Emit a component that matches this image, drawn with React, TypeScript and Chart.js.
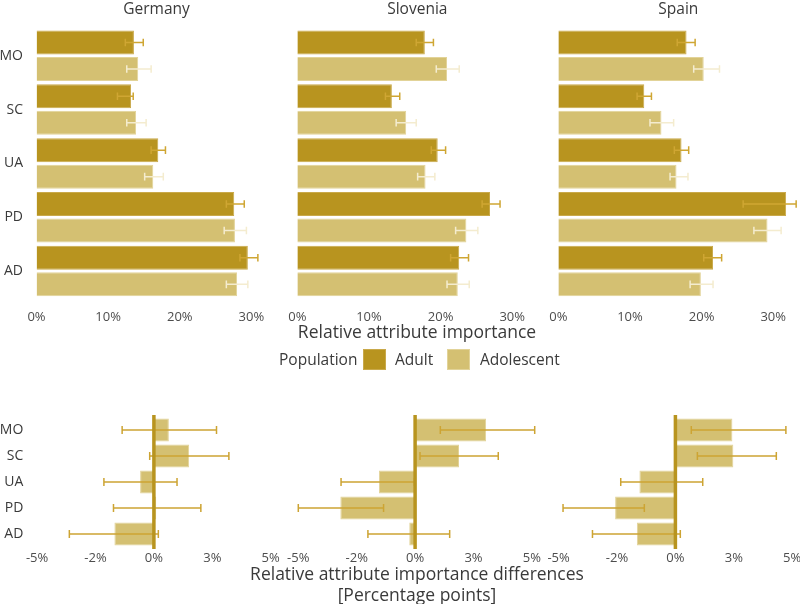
import React, { useEffect, useRef } from "react";
import { Chart, registerables } from "chart.js";

Chart.register(...registerables);

// ---------- data ----------
const categories = ["MO", "SC", "UA", "PD", "AD"];
const countries = ["Germany", "Slovenia", "Spain"];
const importanceTicks = [0, 10, 20, 30];
const importanceTickLabels = ["0%", "10%", "20%", "30%"];
const differenceTicks = [-5, -2.5, 0, 2.5, 5];
const differenceTickLabels = ["-5%", "-2%", "0%", "3%", "5%"];

// Germany
const germanyAdult = [13.6, 13.2, 17.0, 27.6, 29.5];
const germanyAdultLow = [12.4, 11.3, 16.0, 26.5, 28.4];
const germanyAdultHigh = [14.9, 13.5, 18.0, 29.0, 30.9];
const germanyAdolescent = [14.2, 13.9, 16.3, 27.7, 28.0];
const germanyAdolescentLow = [12.6, 12.6, 15.1, 26.2, 26.5];
const germanyAdolescentHigh = [16.0, 15.3, 17.7, 29.3, 29.5];
// Slovenia
const sloveniaAdult = [17.8, 13.2, 19.6, 26.9, 22.6];
const sloveniaAdultLow = [16.6, 12.3, 18.7, 25.8, 21.4];
const sloveniaAdultHigh = [19.0, 14.3, 20.7, 28.3, 23.9];
const sloveniaAdolescent = [20.9, 15.2, 17.9, 23.6, 22.4];
const sloveniaAdolescentLow = [19.4, 13.8, 16.8, 22.1, 20.9];
const sloveniaAdolescentHigh = [22.6, 16.6, 19.2, 25.2, 24.0];
// Spain
const spainAdult = [17.9, 12.0, 17.2, 31.8, 21.6];
const spainAdultLow = [16.6, 11.0, 16.2, 25.8, 20.3];
const spainAdultHigh = [19.1, 13.0, 18.2, 33.2, 22.8];
const spainAdolescent = [20.3, 14.4, 16.5, 29.2, 19.9];
const spainAdolescentLow = [18.9, 12.8, 15.6, 27.3, 18.4];
const spainAdolescentHigh = [22.5, 16.1, 18.1, 31.1, 21.6];
// Differences (Adolescent - Adult), percentage points
const germanyDifference = [0.64, 1.51, -0.59, 0.1, -1.69];
const germanyDifferenceLow = [-1.36, -0.18, -2.14, -1.73, -3.62];
const germanyDifferenceHigh = [2.68, 3.21, 0.99, 2.01, 0.19];
const sloveniaDifference = [3.04, 1.88, -1.55, -3.2, -0.25];
const sloveniaDifferenceLow = [1.08, 0.21, -3.17, -5.0, -2.02];
const sloveniaDifferenceHigh = [5.12, 3.56, -0.03, -1.35, 1.48];
const spainDifference = [2.44, 2.48, -1.54, -2.58, -1.65];
const spainDifferenceLow = [0.68, 0.94, -2.34, -4.81, -3.55];
const spainDifferenceHigh = [4.73, 4.32, 1.17, -1.33, 0.21];

// ---------- styles ----------
const FONT = "'Open Sans', 'Noto Sans', sans-serif";
const ADULT = "#B8941F";
const ADOLESCENT = "#D4C072";
const ADULT_BORDER = "#C9A94A";
const ADOLESCENT_BORDER = "#E2D398";
const ADULT_ERR = "#CFA633";
const ADOLESCENT_ERR = "#F4ECCF";
const DIFF_ERR = "#CDA433";
const TEXT = "#3a3a3a";
const TICK = "#4d4d4d";

type ErrSet = { low: number[]; high: number[]; color: string };
type DS = { label: string; data: number[]; color: string; border: string };
type PanelProps = {
  left: number;
  top: number;
  width: number;
  height: number;
  title?: string;
  showY: boolean;
  yWidth: number;
  yPad: number;
  padLeft: number;
  padRight: number;
  padTop: number;
  datasets: DS[];
  errors: ErrSet[];
  min: number;
  max: number;
  ticks: number[];
  tickLabels: string[];
  tickPadding: number;
  xHeight: number;
  catPct: number;
  barPct: number;
  zeroLine: boolean;
  capHalf: number;
};

function makeOverlay(errors: ErrSet[], zeroLine: boolean, capHalf: number) {
  return {
    id: "overlay",
    afterDatasetsDraw(chart: any) {
      const { ctx, chartArea } = chart;
      const x = chart.scales.x;
      ctx.save();
      errors.forEach((set, di) => {
        const meta = chart.getDatasetMeta(di);
        meta.data.forEach((el: any, i: number) => {
          const y = el.y;
          const x1 = x.getPixelForValue(set.low[i]);
          const x2 = x.getPixelForValue(set.high[i]);
          ctx.strokeStyle = set.color;
          ctx.lineWidth = 1.5;
          ctx.beginPath();
          ctx.moveTo(x1, y);
          ctx.lineTo(x2, y);
          ctx.moveTo(x1, y - capHalf);
          ctx.lineTo(x1, y + capHalf);
          ctx.moveTo(x2, y - capHalf);
          ctx.lineTo(x2, y + capHalf);
          ctx.stroke();
        });
      });
      if (zeroLine) {
        const x0 = x.getPixelForValue(0);
        ctx.strokeStyle = ADULT;
        ctx.lineWidth = 3.5;
        ctx.beginPath();
        ctx.moveTo(x0, chartArea.top - 2);
        ctx.lineTo(x0, chartArea.bottom + 2);
        ctx.stroke();
      }
      ctx.restore();
    },
  };
}

function Panel(p: PanelProps) {
  const ref = useRef<HTMLCanvasElement>(null);
  useEffect(() => {
    const canvas = ref.current;
    if (!canvas) return;
    const chart = new Chart(canvas, {
      type: "bar",
      data: {
        labels: categories,
        datasets: p.datasets.map((d) => ({
          label: d.label,
          data: d.data,
          backgroundColor: d.color,
          borderColor: d.border,
          borderWidth: 1,
          categoryPercentage: p.catPct,
          barPercentage: p.barPct,
        })),
      },
      options: {
        indexAxis: "y",
        responsive: false,
        animation: false,
        events: [],
        layout: {
          padding: { left: p.padLeft, right: p.padRight, top: p.padTop, bottom: 0 },
        },
        plugins: {
          legend: { display: false },
          tooltip: { enabled: false },
          title: {
            display: !!p.title,
            text: p.title || "",
            fullSize: false,
            color: TEXT,
            font: { family: FONT, size: 15.5, weight: "normal", lineHeight: 1.2 },
            padding: { top: 0, bottom: 10.2 },
          },
        },
        scales: {
          x: {
            type: "linear",
            min: p.min,
            max: p.max,
            grid: { display: false, drawTicks: false },
            border: { display: false },
            ticks: {
              color: TICK,
              font: { family: FONT, size: 13 },
              padding: p.tickPadding,
              maxRotation: 0,
              autoSkip: false,
              callback: (_v: any, i: number) => p.tickLabels[i],
            },
            afterBuildTicks: (s: any) => {
              s.ticks = p.ticks.map((v) => ({ value: v }));
            },
            afterFit: (s: any) => {
              s.height = p.xHeight;
              s.paddingLeft = 0;
              s.paddingRight = 0;
            },
          },
          y: {
            type: "category",
            display: p.showY,
            grid: { display: false, drawTicks: false },
            border: { display: false },
            ticks: {
              color: TEXT,
              font: { family: FONT, size: 14 },
              padding: p.yPad,
            },
            afterFit: (s: any) => {
              s.width = p.yWidth;
              s.paddingTop = 0;
              s.paddingBottom = 0;
            },
          },
        },
      },
      plugins: [makeOverlay(p.errors, p.zeroLine, p.capHalf)],
    } as any);
    return () => chart.destroy();
  }, []);
  return (
    <canvas
      ref={ref}
      width={p.width}
      height={p.height}
      style={{ position: "absolute", left: p.left, top: p.top, width: p.width, height: p.height }}
    />
  );
}

const topSets = [
  {
    adult: germanyAdult, adultLow: germanyAdultLow, adultHigh: germanyAdultHigh,
    adol: germanyAdolescent, adolLow: germanyAdolescentLow, adolHigh: germanyAdolescentHigh,
  },
  {
    adult: sloveniaAdult, adultLow: sloveniaAdultLow, adultHigh: sloveniaAdultHigh,
    adol: sloveniaAdolescent, adolLow: sloveniaAdolescentLow, adolHigh: sloveniaAdolescentHigh,
  },
  {
    adult: spainAdult, adultLow: spainAdultLow, adultHigh: spainAdultHigh,
    adol: spainAdolescent, adolLow: spainAdolescentLow, adolHigh: spainAdolescentHigh,
  },
];
const bottomSets = [
  { diff: germanyDifference, low: germanyDifferenceLow, high: germanyDifferenceHigh },
  { diff: sloveniaDifference, low: sloveniaDifferenceLow, high: sloveniaDifferenceHigh },
  { diff: spainDifference, low: spainDifferenceLow, high: spainDifferenceHigh },
];

// layout geometry (canvas placement)
const topGeom = [
  { left: 0, width: 282, showY: true, yWidth: 36.5, padLeft: 0, padRight: 5.5 },
  { left: 273, width: 270, showY: false, yWidth: 0, padLeft: 24.3, padRight: 5.7 },
  { left: 534, width: 266, showY: false, yWidth: 0, padLeft: 24.3, padRight: 1.7 },
];
const bottomGeom = [
  { left: 0, width: 285, showY: true, yWidth: 37.1, padLeft: 0, padRight: 14.3 },
  { left: 278, width: 268, showY: false, yWidth: 0, padLeft: 20.3, padRight: 14.1 },
  { left: 538, width: 262, showY: false, yWidth: 0, padLeft: 20.6, padRight: 7.8 },
];

const textBase: React.CSSProperties = {
  position: "absolute",
  fontFamily: FONT,
  color: TEXT,
  whiteSpace: "nowrap",
};

export default function App() {
  return (
    <div
      style={{
        position: "absolute",
        left: 0,
        top: 0,
        width: 800,
        height: 604,
        overflow: "hidden",
        background: "#ffffff",
      }}
    >
      {countries.map((c, k) => (
        <Panel
          key={"top" + c}
          left={topGeom[k].left}
          top={0}
          width={topGeom[k].width}
          height={338}
          title={c}
          showY={topGeom[k].showY}
          yWidth={topGeom[k].yWidth}
          yPad={13.5}
          padLeft={topGeom[k].padLeft}
          padRight={topGeom[k].padRight}
          padTop={0}
          datasets={[
            { label: "Adult", data: topSets[k].adult, color: ADULT, border: ADULT_BORDER },
            { label: "Adolescent", data: topSets[k].adol, color: ADOLESCENT, border: ADOLESCENT_BORDER },
          ]}
          errors={[
            { low: topSets[k].adultLow, high: topSets[k].adultHigh, color: ADULT_ERR },
            { low: topSets[k].adolLow, high: topSets[k].adolHigh, color: ADOLESCENT_ERR },
          ]}
          min={0}
          max={33.5}
          ticks={importanceTicks}
          tickLabels={importanceTickLabels}
          tickPadding={11}
          xHeight={40}
          catPct={0.985}
          barPct={0.905}
          zeroLine={false}
          capHalf={3.8}
        />
      ))}
      {countries.map((c, k) => (
        <Panel
          key={"bottom" + c}
          left={bottomGeom[k].left}
          top={400}
          width={bottomGeom[k].width}
          height={167}
          showY={bottomGeom[k].showY}
          yWidth={bottomGeom[k].yWidth}
          yPad={13.8}
          padLeft={bottomGeom[k].padLeft}
          padRight={bottomGeom[k].padRight}
          padTop={17}
          datasets={[
            { label: "Difference", data: bottomSets[k].diff, color: ADOLESCENT, border: ADOLESCENT_BORDER },
          ]}
          errors={[{ low: bottomSets[k].low, high: bottomSets[k].high, color: DIFF_ERR }]}
          min={-5}
          max={5}
          ticks={differenceTicks}
          tickLabels={differenceTickLabels}
          tickPadding={3}
          xHeight={20}
          catPct={1}
          barPct={0.885}
          zeroLine={true}
          capHalf={4}
        />
      ))}

      {/* axis title top */}
      <div style={{ ...textBase, left: 0, width: 834, top: 320, height: 22, lineHeight: "22px", fontSize: 17.5, textAlign: "center" }}>
        Relative attribute importance
      </div>

      {/* legend */}
      <div style={{ ...textBase, left: 279, top: 348, height: 22, lineHeight: "22px", fontSize: 15.5 }}>Population</div>
      <div style={{ position: "absolute", left: 363, top: 349, width: 23, height: 21, background: ADULT, boxSizing: "border-box", border: "1px solid " + ADULT_BORDER }} />
      <div style={{ ...textBase, left: 395, top: 348, height: 22, lineHeight: "22px", fontSize: 15.5 }}>Adult</div>
      <div style={{ position: "absolute", left: 447, top: 349, width: 23, height: 21, background: ADOLESCENT, boxSizing: "border-box", border: "1px solid " + ADOLESCENT_BORDER }} />
      <div style={{ ...textBase, left: 480, top: 348, height: 22, lineHeight: "22px", fontSize: 15.5 }}>Adolescent</div>

      {/* axis title bottom */}
      <div style={{ ...textBase, left: 0, width: 834, top: 563, height: 21, lineHeight: "21px", fontSize: 17.5, textAlign: "center" }}>
        Relative attribute importance differences
      </div>
      <div style={{ ...textBase, left: 0, width: 834, top: 584, height: 21, lineHeight: "21px", fontSize: 17.5, textAlign: "center" }}>
        [Percentage points]
      </div>
    </div>
  );
}
